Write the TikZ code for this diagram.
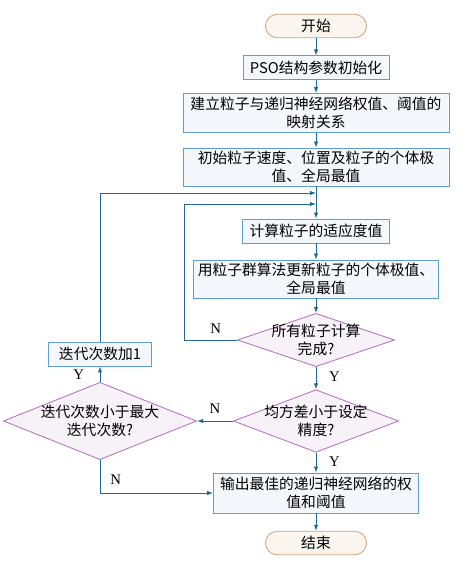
\documentclass[tikz,border=0pt]{standalone}
\usepackage{fontspec}
\setmainfont{Liberation Serif}
\newfontfamily\cjk{Noto Sans CJK SC}
\usepackage{xcolor}
\usepackage{tikz}
\usetikzlibrary{arrows.meta, positioning, calc, shapes.geometric}
\definecolor{linecolor}{RGB}{31,104,152}
\definecolor{boxcolor}{RGB}{96,156,214}
\definecolor{boxfill}{RGB}{244,248,252}
\definecolor{termcolor}{RGB}{204,164,124}
\definecolor{termfill}{RGB}{250,245,238}
\definecolor{deccolor}{RGB}{180,112,192}
\definecolor{decfill}{RGB}{247,241,248}

\begin{document}
\begin{tikzpicture}[
    x=0.025cm, y=-0.025cm,
    >={Latex[length=1.5mm, width=1.1mm]},
    every node/.style={font=\fontsize{10.5}{12.5}\selectfont},
    proc/.style={draw=boxcolor, fill=boxfill, line width=0.6pt, align=center, inner sep=1pt, font=\cjk\fontsize{10.5}{12.5}\selectfont},
    term/.style={draw=termcolor, fill=termfill, line width=0.6pt, rounded corners=0.3cm, minimum width=2.53cm, minimum height=0.59cm, font=\cjk\fontsize{10.5}{12.5}\selectfont},
    decision/.style={diamond, draw=deccolor, fill=decfill, line width=0.6pt, align=center, inner xsep=-0.6cm, inner ysep=-0.3cm, font=\cjk\fontsize{10.5}{12.5}\selectfont},
    flow/.style={->, draw=linecolor, line width=0.6pt},
    lbl/.style={font=\fontsize{10.5}{12}\selectfont, inner sep=1pt},
]
    \useasboundingbox (0,0) rectangle (467,566);

    % Main chain
    \node[term] (start) at (316,26) {开始};
    \node[proc, minimum width=3.65cm, minimum height=0.58cm] (pso) at (316,67.5) {PSO结构参数初始化};
    \node[proc, minimum width=6.65cm, minimum height=0.97cm] (map) at (316,113) {建立粒子与递归神经网络权值、阈值的\\映射关系};
    \node[proc, minimum width=6.65cm, minimum height=0.95cm] (init) at (316,167) {初始粒子速度、位置及粒子的个体极\\值、全局最值};
    \node[proc, minimum width=3.67cm, minimum height=0.6cm] (fit) at (316,231) {计算粒子的适应度值};
    \node[proc, minimum width=6.12cm, minimum height=0.95cm] (upd) at (316,279) {用粒子群算法更新粒子的个体极值、\\全局最值};
    \node[decision, minimum width=3.93cm, minimum height=1.33cm] (alldone) at (316,340) {所有粒子计算\\完成?};
    \node[decision, minimum width=4.13cm, minimum height=1.4cm] (mse) at (316,421) {均方差小于设定\\精度?};
    \node[proc, minimum width=5.12cm, minimum height=1cm] (out) at (316,493) {输出最佳的递归神经网络的权\\值和阈值};
    \node[term] (stop) at (316,543) {结束};

    % Iteration branch
    \node[decision, minimum width=4.83cm, minimum height=1.7cm] (maxit) at (100,421) {迭代次数小于最大\\迭代次数?};
    \node[proc, minimum width=2.57cm, minimum height=0.6cm] (inc) at (100,354) {迭代次数加1};

    % Junctions on the main line
    \coordinate (j1) at (316,193);
    \coordinate (j2) at (316,204);
    \coordinate (k1) at (184,340);

    \draw[flow] (start) -- (pso);
    \draw[flow] (pso) -- (map);
    \draw[flow] (map) -- (init);
    \draw[flow] (init) -- (fit);
    \draw[flow] (fit) -- (upd);
    \draw[flow] (upd) -- (alldone);
    \draw[flow] (alldone) -- node[lbl, right=8pt, pos=0.45] (y1) {Y} (mse);
    \draw[flow] (mse) -- node[lbl, right=8pt, pos=0.45] (y2) {Y} (out);
    \draw[flow] (out) -- (stop);

    % Loops
    \draw[flow] (alldone.west) -- node[lbl, above=3pt, pos=0.4] (n1) {N} (k1) |- (j2);
    \draw[flow] (inc.north) |- (j1);
    \draw[flow] (mse.west) -- node[lbl, above=4pt] (n2) {N} (maxit.east);
    \draw[flow] (maxit.north) -- node[lbl, left=10pt, pos=0.45] (y3) {Y} (inc.south);
    \draw[flow] (maxit.south) |- node[lbl, right=6pt, pos=0.3] (n3) {N} (out.west);
\end{tikzpicture}
\end{document}
